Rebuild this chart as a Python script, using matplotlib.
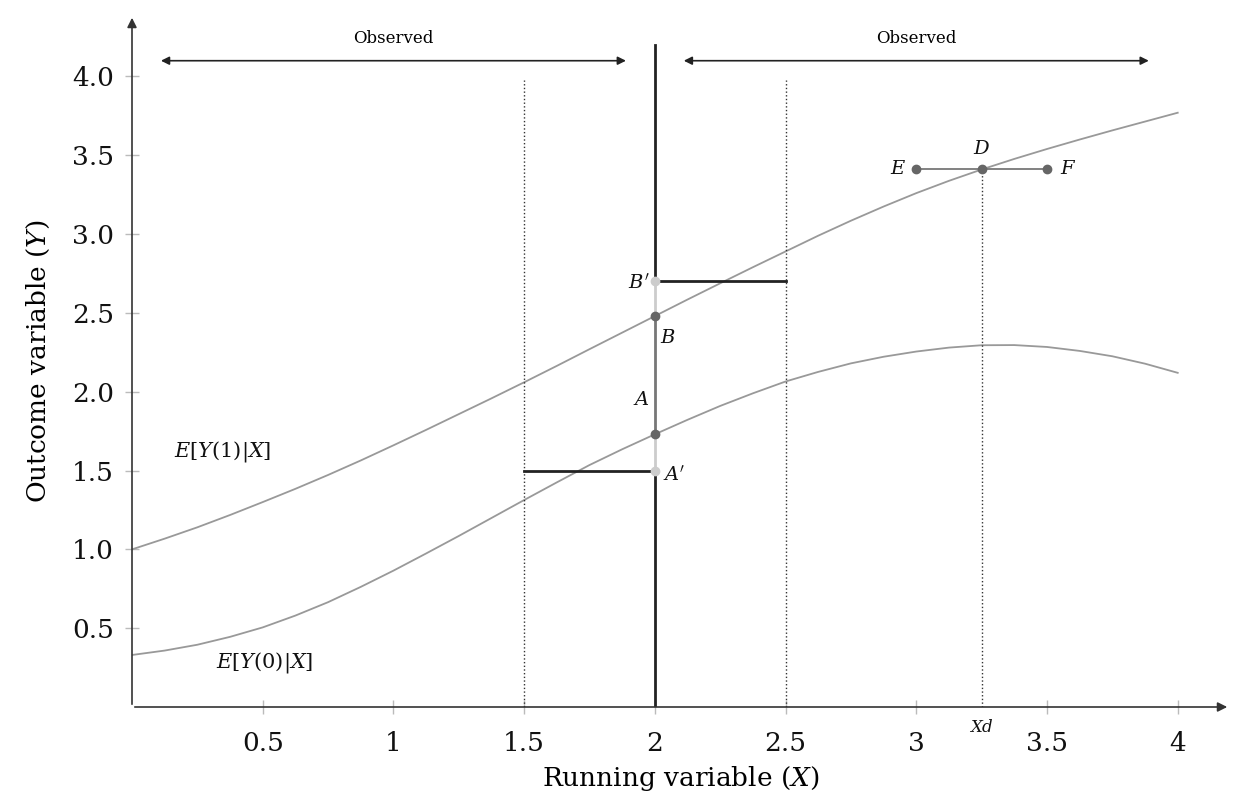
import numpy as np
import matplotlib.pyplot as plt

plt.rcParams['font.family'] = ['DejaVu Serif']
plt.rcParams['mathtext.fontset'] = 'dejavuserif'

# curves (every 0.125 on the running variable)
x_pts = [0, 0.125, 0.25, 0.375, 0.5, 0.625, 0.75, 0.875, 1.0, 1.125, 1.25, 1.375,
         1.5, 1.625, 1.75, 1.875, 2.0, 2.125, 2.25, 2.375, 2.5, 2.625, 2.75, 2.875,
         3.0, 3.125, 3.25, 3.375, 3.5, 3.625, 3.75, 3.875, 4.0]
y1_pts = [1.000, 1.068, 1.140, 1.218, 1.300, 1.384, 1.472, 1.564, 1.660, 1.758, 1.858, 1.958,
          2.060, 2.164, 2.270, 2.375, 2.480, 2.585, 2.688, 2.790, 2.890, 2.990, 3.085, 3.175,
          3.260, 3.338, 3.410, 3.477, 3.540, 3.600, 3.658, 3.714, 3.770]
y0_pts = [0.330, 0.358, 0.395, 0.445, 0.505, 0.580, 0.665, 0.762, 0.865, 0.974, 1.085, 1.199,
          1.313, 1.425, 1.535, 1.635, 1.730, 1.822, 1.910, 1.990, 2.065, 2.126, 2.180, 2.222,
          2.255, 2.280, 2.295, 2.296, 2.284, 2.259, 2.225, 2.178, 2.120]

cutoff = 2.0
A, B = 1.73, 2.48
A_prime, B_prime = 1.5, 2.7
window_lo, window_hi = 1.5, 2.5
xd = 3.25
D_y = 3.41
E_x, F_x = 3.0, 3.5

xticks = [0.5, 1, 1.5, 2, 2.5, 3, 3.5, 4]
xtick_labels = ['0.5', '1', '1.5', '2', '2.5', '3', '3.5', '4']
yticks = [0.5, 1.0, 1.5, 2.0, 2.5, 3.0, 3.5, 4.0]

fig = plt.figure(figsize=(12.35, 8), dpi=100)
ax = fig.add_axes([132/1235, 93/800, (1230-132)/1235, (707-15)/800])
ax.set_xlim(0, 4.2)
ax.set_ylim(0, 4.39)
for s in ax.spines.values():
    s.set_visible(False)

# axes with arrows
ax.annotate('', xy=(4.2, 0), xytext=(0, 0),
            arrowprops=dict(arrowstyle='-|>', color='#333333', lw=1.2, mutation_scale=14),
            annotation_clip=False)
ax.annotate('', xy=(0, 4.39), xytext=(0, 0),
            arrowprops=dict(arrowstyle='-|>', color='#333333', lw=1.2, mutation_scale=14),
            annotation_clip=False)

ax.set_xticks(xticks)
ax.set_xticklabels(xtick_labels)
ax.set_yticks(yticks)
ax.set_yticklabels(['%.1f' % v for v in yticks])
ax.tick_params(direction='inout', length=10, width=1, color='#bbbbbb',
               labelsize=19, labelcolor='#111111')
ax.tick_params(axis='x', pad=12)
ax.tick_params(axis='y', pad=8)

ax.set_xlabel('Running variable ($X$)', fontsize=19, labelpad=6)
ax.set_ylabel('Outcome variable ($Y$)', fontsize=19, labelpad=14)

# curves
ax.plot(x_pts, y1_pts, color='#999999', lw=1.3)
ax.plot(x_pts, y0_pts, color='#999999', lw=1.3)

# dotted guides
ax.plot([window_lo, window_lo], [0, 3.98], color='#333333', lw=1, ls=':')
ax.plot([window_hi, window_hi], [0, 3.98], color='#333333', lw=1, ls=':')
ax.plot([xd, xd], [0, D_y], color='#333333', lw=1, ls=':')

# cutoff line
ax.plot([cutoff, cutoff], [0, A_prime], color='#222222', lw=2)
ax.plot([cutoff, cutoff], [B_prime, 4.2], color='#222222', lw=2)
ax.plot([cutoff, cutoff], [A_prime, A], color='#cccccc', lw=2)
ax.plot([cutoff, cutoff], [B, B_prime], color='#cccccc', lw=2)
ax.plot([cutoff, cutoff], [A, B], color='#777777', lw=2)

# window bars
ax.plot([window_lo, cutoff], [A_prime, A_prime], color='#222222', lw=2)
ax.plot([cutoff, window_hi], [B_prime, B_prime], color='#222222', lw=2)

ax.plot([cutoff, cutoff], [A, B], 'o', color='#666666', ms=6)
ax.plot([cutoff, cutoff], [A_prime, B_prime], 'o', color='#cccccc', ms=6)

# E D F
ax.plot([E_x, F_x], [D_y, D_y], color='#777777', lw=1.3)
ax.plot([E_x, xd, F_x], [D_y, D_y, D_y], 'o', color='#666666', ms=6)

lab = dict(fontsize=14, color='#111111')
ax.text(1.98, 1.95, '$A$', ha='right', va='center', **lab)
ax.text(2.02, 2.34, '$B$', ha='left', va='center', **lab)
ax.text(1.98, 2.69, "$B'$", ha='right', va='center', **lab)
ax.text(2.03, 1.47, "$A'$", ha='left', va='center', **lab)
ax.text(xd, 3.54, '$D$', ha='center', va='center', **lab)
ax.text(2.96, D_y, '$E$', ha='right', va='center', **lab)
ax.text(3.55, D_y, '$F$', ha='left', va='center', **lab)
ax.text(xd, -0.13, '$Xd$', ha='center', va='center', fontsize=12, color='#111111')

ax.text(0.16, 1.62, '$E[Y(1)|X]$', ha='left', va='center', fontsize=15, color='#111111')
ax.text(0.32, 0.28, '$E[Y(0)|X]$', ha='left', va='center', fontsize=15, color='#111111')

# observed ranges
ax.annotate('', xy=(0.1, 4.1), xytext=(1.9, 4.1),
            arrowprops=dict(arrowstyle='<|-|>', color='#222222', lw=1.2, mutation_scale=12))
ax.annotate('', xy=(2.1, 4.1), xytext=(3.9, 4.1),
            arrowprops=dict(arrowstyle='<|-|>', color='#222222', lw=1.2, mutation_scale=12))
ax.text(1.0, 4.24, 'Observed', ha='center', va='center', fontsize=12)
ax.text(3.0, 4.24, 'Observed', ha='center', va='center', fontsize=12)

fig.savefig('out.png', dpi=100)
